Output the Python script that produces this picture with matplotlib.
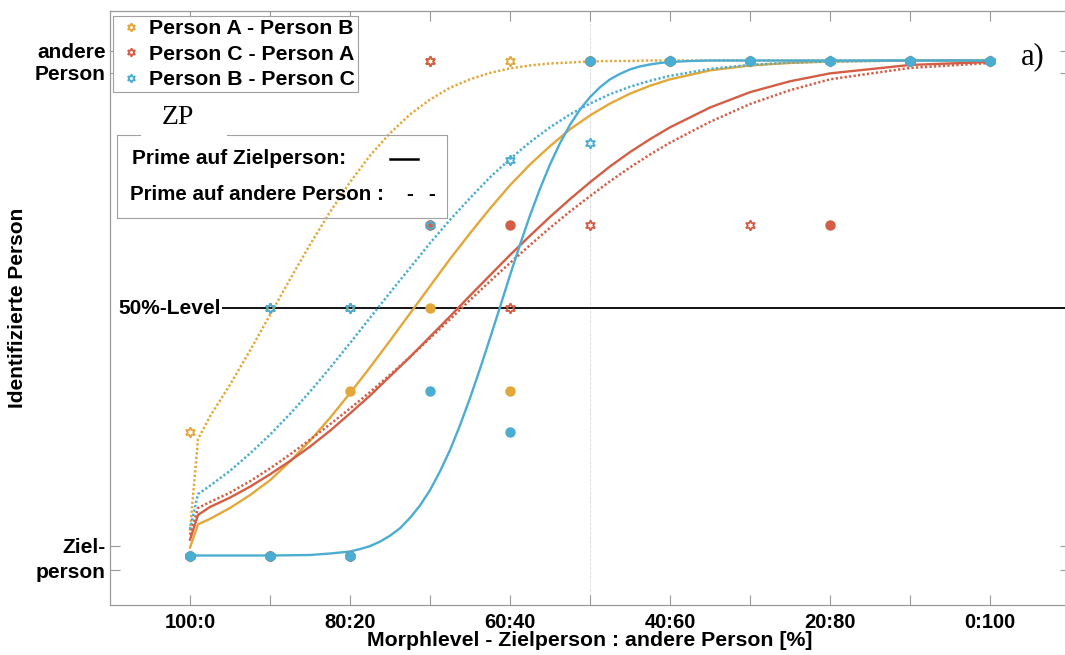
import matplotlib.pyplot as plt
from matplotlib.lines import Line2D
from matplotlib.patches import Rectangle

plt.rcParams['font.family'] = ['Liberation Sans', 'DejaVu Sans']
plt.rcParams['font.weight'] = 'bold'

# Morphlevel (Anteil andere Person in %)
levels = [0, 10, 20, 30, 40, 50, 60, 70, 80, 90, 100]
xtick_labels = ['100:0', '', '80:20', '', '60:40', '', '40:60', '', '20:80', '', '0:100']
names = ['Person A - Person B', 'Person C - Person A', 'Person B - Person C']
colors = ['#E3A73A', '#D45E45', '#4AADD1']

# Antworten (0 = Zielperson, 1 = andere Person)
# Prime auf Zielperson (gefuellte Punkte)
ab_target = [0, 0, 0.333, 0.5, 0.333, 1, 1, 1, 1, 1, 1]
ca_target = [0, 0, 0, 0.667, 0.667, 1, 1, 1, 0.667, 1, 1]
bc_target = [0, 0, 0, 0.333, 0.25, 1, 1, 1, 1, 1, 1]
# Prime auf andere Person (Hexagramme)
ab_other = [0.25, 0.5, 0.5, 1, 1, 1, 1, 1, 1, 1, 1]
ca_other = [0, 0, 0, 1, 0.5, 0.667, 1, 0.667, 1, 1, 1]
bc_other = [0, 0.5, 0.5, 0.667, 0.8, 0.833, 1, 1, 1, 1, 1]

# angepasste Kurven
curve_x = [0, 1, 2.5, 5, 7.5, 10, 12.5, 15, 17.5, 20, 22.5, 25, 27.5, 30, 32.5, 35,
           37.5, 40, 42.5, 45, 47.5, 50, 52.5, 55, 57.5, 60, 65, 70, 75, 80, 90, 100]
ab_target_fit = [0.016, 0.063, 0.074, 0.096, 0.122, 0.152, 0.190, 0.232, 0.278, 0.328, 0.380,
                 0.434, 0.489, 0.544, 0.599, 0.651, 0.701, 0.748, 0.790, 0.827, 0.861, 0.889,
                 0.913, 0.933, 0.949, 0.962, 0.980, 0.990, 0.995, 0.998, 1.0, 1.0]
ab_other_fit = [0.050, 0.235, 0.281, 0.345, 0.414, 0.486, 0.558, 0.628, 0.694, 0.754, 0.808,
                0.853, 0.891, 0.921, 0.945, 0.962, 0.975, 0.984, 0.990, 0.994, 0.996, 0.998,
                0.999, 0.999, 1.0, 1.0, 1.0, 1.0, 1.0, 1.0, 1.0, 1.0]
ca_target_fit = [0.032, 0.082, 0.098, 0.117, 0.139, 0.164, 0.191, 0.220, 0.252, 0.287, 0.323,
                 0.362, 0.401, 0.442, 0.483, 0.525, 0.566, 0.607, 0.646, 0.684, 0.720, 0.754,
                 0.786, 0.815, 0.841, 0.865, 0.905, 0.936, 0.958, 0.974, 0.991, 0.997]
ca_other_fit = [0.042, 0.096, 0.108, 0.127, 0.150, 0.176, 0.204, 0.234, 0.265, 0.297, 0.330,
                0.365, 0.401, 0.439, 0.477, 0.516, 0.554, 0.591, 0.627, 0.662, 0.695, 0.726,
                0.756, 0.784, 0.810, 0.834, 0.876, 0.912, 0.940, 0.962, 0.985, 0.995]
bc_other_fit = [0.053, 0.124, 0.141, 0.171, 0.206, 0.244, 0.286, 0.331, 0.379, 0.429, 0.480,
                0.531, 0.581, 0.631, 0.678, 0.722, 0.764, 0.801, 0.835, 0.865, 0.891, 0.913,
                0.932, 0.947, 0.959, 0.969, 0.983, 0.991, 0.996, 0.998, 1.0, 1.0]
bc_curve_x = [0, 10, 15, 17.5, 20, 21.25, 22.5, 23.75, 25, 26.25, 27.5, 28.75, 30, 31.25,
              32.5, 33.75, 35, 36.25, 37.5, 38.75, 40, 41.25, 42.5, 43.75, 45, 46.25, 47.5,
              48.75, 50, 51.25, 52.5, 53.75, 55, 56.25, 57.5, 58.75, 60, 62.5, 65, 80, 100]
bc_target_fit = [0.0, 0.0, 0.001, 0.004, 0.008, 0.013, 0.019, 0.028, 0.040, 0.055, 0.076,
                 0.101, 0.132, 0.170, 0.213, 0.263, 0.318, 0.377, 0.439, 0.502, 0.566, 0.628,
                 0.687, 0.741, 0.790, 0.833, 0.870, 0.901, 0.926, 0.946, 0.962, 0.973, 0.982,
                 0.988, 0.992, 0.995, 0.997, 0.999, 1.0, 1.0, 1.0]

ytick_pos = [-0.03, 0.02, 0.975, 1.02]
ytick_labels = ['person', 'Ziel-', 'Person', 'andere']
level50 = 0.5

targets = [ab_target, ca_target, bc_target]
others = [ab_other, ca_other, bc_other]
target_fits = [(curve_x, ab_target_fit), (curve_x, ca_target_fit), (bc_curve_x, bc_target_fit)]
other_fits = [ab_other_fit, ca_other_fit, bc_other_fit]

W, H = 1065, 655
fig = plt.figure(figsize=(W / 100, H / 100), dpi=100)
ax = fig.add_axes([110 / W, 50 / H, 960 / W, 594 / H])

hexagram = (6, 1, 0)
ax.axvline(50, color='#d8d8d8', ls='--', lw=0.6, zorder=0)
ax.hlines(level50, 4, 110, color='k', lw=1.3, zorder=1)
ax.text(-9, level50, '50%-Level', ha='left', va='center', fontsize=15, fontweight='bold')

for i in range(3):
    c = colors[i]
    fx_, fy_ = target_fits[i]
    ax.plot(fx_, fy_, '-', color=c, lw=1.7, zorder=2)
    ax.plot(curve_x, other_fits[i], ls=(0, (0.9, 0.9)), color=c, lw=1.8, zorder=2)
    ax.plot(levels, targets[i], 'o', color=c, ms=6.5, zorder=3)
    ax.plot(levels, others[i], ls='none', marker=hexagram, mfc='none', mec=c,
            ms=7.5, mew=1.3, zorder=3)

ax.set_xlim(-10, 110)
ax.set_ylim(-0.1, 1.1)
ax.set_xticks(levels)
ax.set_xticklabels(xtick_labels, fontsize=14.5, fontweight='bold')
ax.set_yticks(ytick_pos)
ax.set_yticklabels(ytick_labels, fontsize=15, fontweight='bold')
ax.tick_params(direction='in', length=7, width=0.8, color='#9a9a9a', top=True, right=True)
ax.tick_params(axis='x', pad=6)
ax.tick_params(axis='y', pad=3)
for s in ax.spines.values():
    s.set_color('#9a9a9a')
    s.set_linewidth(0.9)

fig.text(18 / W, 1 - 308 / H, 'Identifizierte Person', rotation=90, ha='center',
         va='center', fontsize=15, fontweight='bold')
fig.text(590 / W, 1 - 640 / H, 'Morphlevel - Zielperson : andere Person [%]',
         ha='center', va='center', fontsize=15.3, fontweight='bold')

handles = [Line2D([], [], ls='none', marker=hexagram, mfc='none', mec=c, ms=6, mew=1.3)
           for c in colors]
leg = ax.legend(handles, names, loc='upper left', bbox_to_anchor=(113 / W, 1 - 16 / H),
                bbox_transform=fig.transFigure, borderaxespad=0, borderpad=0.15,
                handlelength=1.4, handletextpad=0.15, labelspacing=0.3, fancybox=False,
                framealpha=1, edgecolor='#a0a0a0', prop={'size': 15.3, 'weight': 'bold'})
leg.get_frame().set_linewidth(0.8)

# Kasten "ZP" mit Linienstil-Erklaerung
def fx(px):
    return px / W

def fy(py):
    return 1 - py / H

box_col = '#a0a0a0'
for xs, ys in [([117, 117], [135, 218]), ([117, 447], [218, 218]), ([447, 447], [135, 218]),
               ([117, 140], [135, 135]), ([227, 447], [135, 135])]:
    fig.add_artist(Line2D([fx(v) for v in xs], [fy(v) for v in ys], color=box_col, lw=0.8,
                          zorder=5))
fig.add_artist(Rectangle((fx(140), fy(136)), fx(227) - fx(140), fy(95) - fy(136),
                         facecolor='white', edgecolor='none', zorder=4))
fig.text(fx(178), fy(117), 'ZP', ha='center', va='center', fontsize=20,
         family='Liberation Serif', fontweight='normal', zorder=6)
fig.text(fx(132), fy(159), 'Prime auf Zielperson:', ha='left', va='center', fontsize=15,
         fontweight='bold', zorder=6)
fig.add_artist(Line2D([fx(390), fx(418)], [fy(159), fy(159)], color='k', lw=1.8, zorder=6))
fig.text(fx(130), fy(194), 'Prime auf andere Person :', ha='left', va='center',
         fontsize=14.8, fontweight='bold', zorder=6)
fig.text(fx(410), fy(194), '-', ha='center', va='center', fontsize=14.8,
         fontweight='bold', zorder=6)
fig.text(fx(432), fy(194), '-', ha='center', va='center', fontsize=14.8,
         fontweight='bold', zorder=6)

fig.text(fx(1033), fy(57), 'a)', ha='center', va='center', fontsize=22,
         family='Liberation Serif', fontweight='normal')

fig.savefig('out.png', dpi=100)
